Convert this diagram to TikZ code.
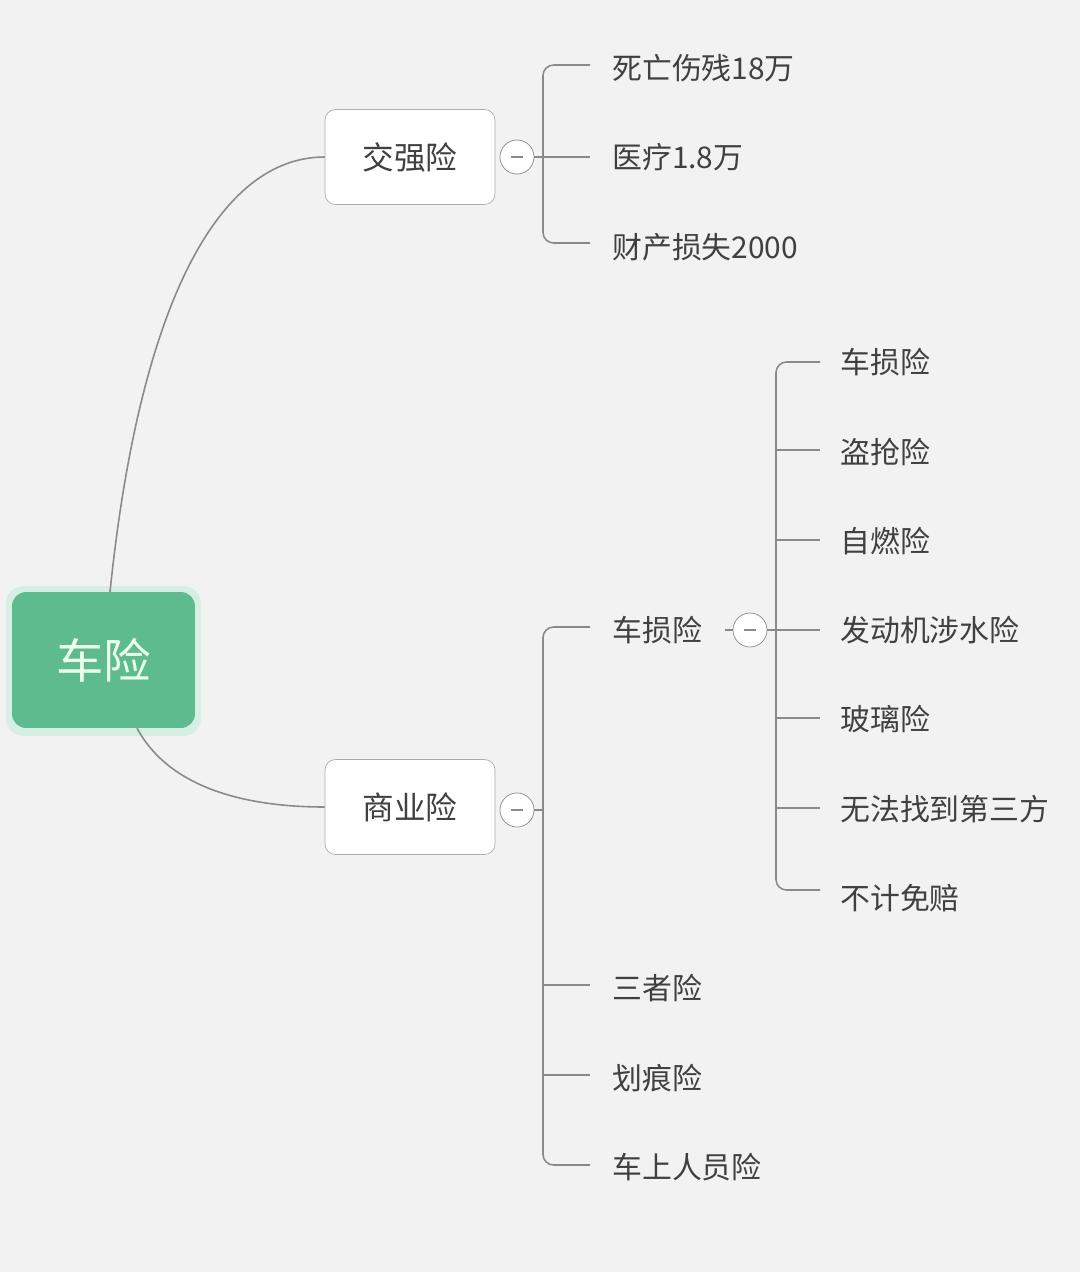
\documentclass[tikz,border=0pt]{standalone}
\usepackage{fontspec}
\setmainfont{Noto Sans CJK SC}
\usetikzlibrary{positioning,calc}
\definecolor{bg}{HTML}{F2F2F2}
\definecolor{rootgreen}{HTML}{5DBB8E}
\definecolor{linegray}{HTML}{8A8A8A}
\tikzset{
  topic/.style={draw=linegray!70, fill=white, rounded corners=6pt, minimum width=3.4cm, minimum height=1.9cm, font=\fontsize{18}{21}\selectfont, text=black!75},
  leaf/.style={anchor=west, font=\fontsize{17}{20}\selectfont, text=black!75, inner sep=0pt},
  fold/.style={draw=linegray, fill=white, circle, minimum size=0.68cm, inner sep=0pt},
  conn/.style={draw=linegray, line width=0.9pt}
}
\begin{document}
\begin{tikzpicture}[x=0.02cm, y=-0.02cm]

% Background
\fill[bg] (0,0) rectangle (1080,1272);
\useasboundingbox (0,0) rectangle (1080,1272);

% Root
\fill[rootgreen!25, rounded corners=10pt] (6,586) rectangle (201,736);
\node[fill=rootgreen, rounded corners=8pt, minimum width=3.66cm, minimum height=2.72cm, font=\fontsize{27}{31}\selectfont, text=white!92!green] (root) at (103.5,660) {车险};

% Main topics
\node[topic] (jq) at (410,157) {交强险};
\node[topic] (sy) at (410,807) {商业险};
\node[fold] (jqf) at (517,157) {};
\node[fold] (syf) at (517,810) {};
\draw[conn] ($(jqf.center)+(-6,0)$) -- ($(jqf.center)+(6,0)$);
\draw[conn] ($(syf.center)+(-6,0)$) -- ($(syf.center)+(6,0)$);

\draw[conn] (110,592) .. controls (140,300) and (220,157) .. (jq.west);
\draw[conn] (137,728) .. controls (170,790) and (250,807) .. (sy.west);

% 交强险 leaves
\node[leaf] (j1) at (612,68) {死亡伤残18万};
\node[leaf] (j2) at (612,157) {医疗1.8万};
\node[leaf] (j3) at (612,247) {财产损失2000};
\draw[conn, rounded corners=6pt] (590,65) -- (543,65) -- (543,243) -- (590,243);
\draw[conn] (jqf.east) -- (590,157);

% 商业险 leaves
\node[leaf] (s1) at (612,630) {车损险};
\node[leaf] (s2) at (612,988) {三者险};
\node[leaf] (s3) at (612,1078) {划痕险};
\node[leaf] (s4) at (612,1167) {车上人员险};
\draw[conn, rounded corners=6pt] (590,627) -- (543,627) -- (543,1165) -- (590,1165);
\draw[conn] (543,985) -- (590,985);
\draw[conn] (543,1075) -- (590,1075);
\draw[conn] (syf.east) -- (543,810);

% 车损险 leaves
\node[fold] (csf) at (750,630) {};
\draw[conn] ($(csf.center)+(-6,0)$) -- ($(csf.center)+(6,0)$);
\draw[conn] (725,630) -- (csf.west);
\draw[conn, rounded corners=6pt] (820,362) -- (776,362) -- (776,890) -- (820,890);
\draw[conn] (csf.east) -- (820,630);
\foreach \y in {450,540,718,808} \draw[conn] (776,\y) -- (820,\y);
\node[leaf] (c1) at (840,362) {车损险};
\node[leaf] (c2) at (840,452) {盗抢险};
\node[leaf] (c3) at (840,541) {自燃险};
\node[leaf] (c4) at (840,630) {发动机涉水险};
\node[leaf] (c5) at (840,719) {玻璃险};
\node[leaf] (c6) at (840,809) {无法找到第三方};
\node[leaf] (c7) at (840,898) {不计免赔};

\end{tikzpicture}
\end{document}
